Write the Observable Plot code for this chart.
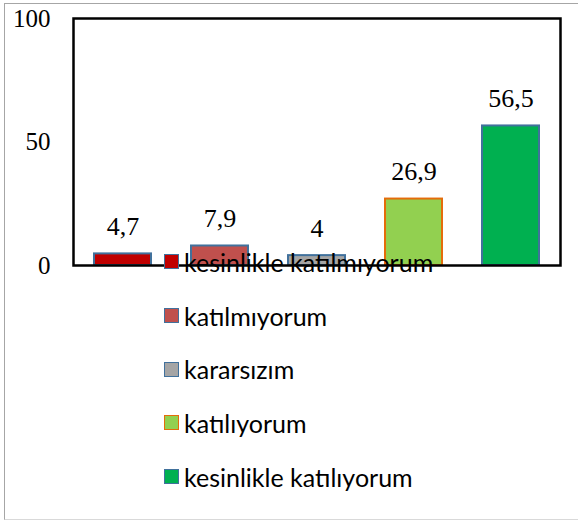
<!DOCTYPE html>
<html>
<head>
<meta charset="utf-8">
<script src="https://cdn.jsdelivr.net/npm/d3@7"></script>
<script src="https://cdn.jsdelivr.net/npm/@observablehq/plot@0.6"></script>
<style>
  html, body { margin: 0; padding: 0; background: #fff; }
  #wrap { position: relative; width: 578px; height: 520px; overflow: hidden; }
  #border { position: absolute; left: 4px; top: 3px; width: 580px; height: 515px;
    border-left: 1px solid #a6a6a6; border-top: 1px solid #a6a6a6; border-bottom: 1px solid #d9d9d9; pointer-events: none; }
  #legend { position: absolute; left: 164px; top: 235px; font-family: Lato, "Open Sans", sans-serif; font-size: 25px; color: #000; }
  .item { display: flex; align-items: center; height: 53.7px; }
  .sw { width: 13px; height: 13px; border: 1.5px solid #41719C; margin-right: 5px; flex: none; }
  svg text { font-family: "Liberation Serif", "Times New Roman", serif; }
</style>
</head>
<body>
<div id="wrap"><div id="chart"></div><div id="legend"></div><div id="border"></div></div>
<script>
const categories = ["kesinlikle katılmıyorum", "katılmıyorum", "kararsızım", "katılıyorum", "kesinlikle katılıyorum"];
const values = [4.7, 7.9, 4, 26.9, 56.5];
const yTicks = [0, 50, 100];

const fillColors = ["#C00000", "#C0504D", "#A5A5A5", "#92D050", "#00B050"];
const strokeColors = ["#41719C", "#41719C", "#41719C", "#E46C0A", "#41719C"];

const data = categories.map((c, i) => ({ cat: c, value: values[i] }));
const fillOf = d => fillColors[categories.indexOf(d.cat)];
const strokeOf = d => strokeColors[categories.indexOf(d.cat)];
const fmt = v => String(v).replace(".", ",");

const chart = Plot.plot({
  width: 578,
  height: 520,
  marginLeft: 73,
  marginRight: 18,
  marginTop: 18,
  marginBottom: 255,
  style: { fontFamily: "Liberation Serif, serif", background: "transparent" },
  x: { domain: categories, paddingInner: 0.415, paddingOuter: 0.2075, axis: null },
  y: { domain: [0, 100], ticks: yTicks, tickSize: 0, tickPadding: 23, label: null, tickFormat: d => String(d) },
  color: { type: "identity" },
  marks: [
    Plot.barY(data, { x: "cat", y: "value", fill: fillOf, stroke: strokeOf, strokeWidth: 2 }),
    Plot.frame({ stroke: "black", strokeWidth: 2.5 }),
    Plot.text(data, { x: "cat", y: "value", text: d => fmt(d.value), lineAnchor: "bottom", dy: -19, fontSize: 26, fill: "black", fontFamily: "Liberation Serif, serif" })
  ]
});
chart.querySelectorAll("g[aria-label='y-axis tick label']").forEach(g => { g.setAttribute("font-size", 25); });
document.getElementById("chart").appendChild(chart);

const legend = document.getElementById("legend");
categories.forEach((c, i) => {
  const row = document.createElement("div");
  row.className = "item";
  const sw = document.createElement("span");
  sw.className = "sw";
  sw.style.background = fillColors[i];
  sw.style.borderColor = strokeColors[i];
  const t = document.createElement("span");
  t.textContent = c;
  row.appendChild(sw);
  row.appendChild(t);
  legend.appendChild(row);
});
</script>
</body>
</html>
